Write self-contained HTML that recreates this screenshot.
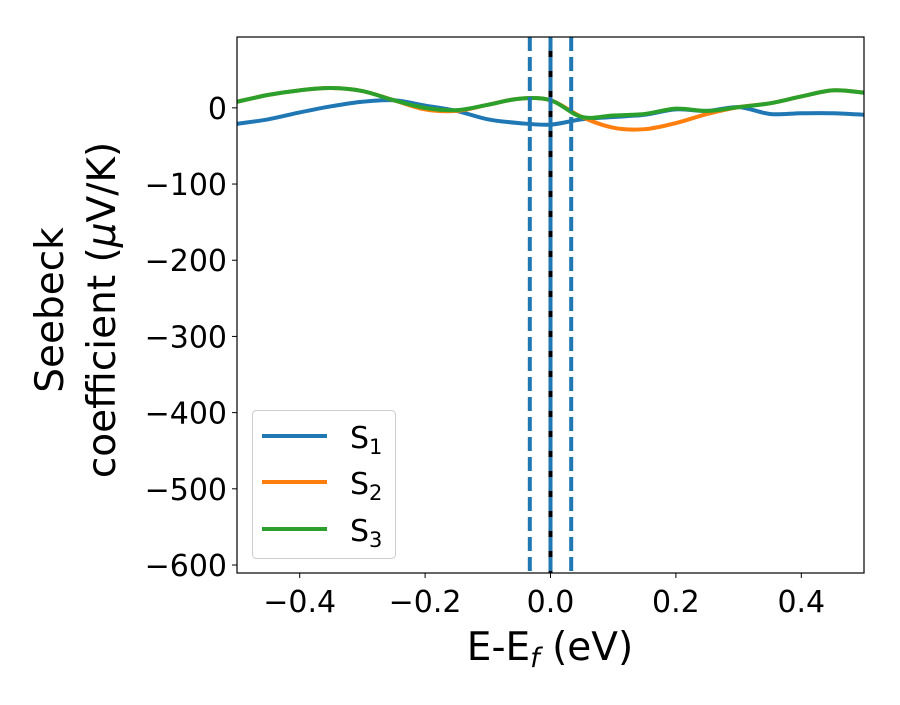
<!DOCTYPE html>
<html><head><meta charset="utf-8"><style>
html,body{margin:0;padding:0;background:#fff;}
svg text{font-family:"DejaVu Sans","Liberation Sans",sans-serif;fill:#000;}
</style></head><body>
<svg id="chart" width="900" height="700" xmlns="http://www.w3.org/2000/svg">
<g id="plot"></g>
</svg>
<script>
const xValues = [-0.5,-0.45,-0.4,-0.35,-0.3,-0.25,-0.2,-0.15,-0.1,-0.05,0,0.05,0.1,0.15,0.2,0.25,0.3,0.35,0.4,0.45,0.5];
const s1Values = [-21,-15,-6,2,8,10,3,-4,-15,-20,-22,-15,-12,-9,-2,-4,1,-8,-7,-7,-9];
const s2Values = [8,17,23,26,22,10,-2,-4,4,12,10,-12,-26,-28,-20,-8,1,6,15,23,20];
const s3Values = [8,17,23,26,22,10,0,-3,4,12,10,-12,-10,-8,-1,-4,1,6,15,23,20];
const xTicks = [-0.4,-0.2,0.0,0.2,0.4];
const xTickLabels = ["−0.4","−0.2","0.0","0.2","0.4"];
const yTicks = [0,-100,-200,-300,-400,-500,-600];
const yTickLabels = ["0","−100","−200","−300","−400","−500","−600"];
const vlinesDashed = [-0.033,0.033];
const vlineSolid = [0];

const L=237,R=864,T=37,B=573;
const xMin=-0.5,xMax=0.5,yMin=-610.5,yMax=93;
const sx=v=>L+(v-xMin)/(xMax-xMin)*(R-L);
const sy=v=>B-(v-yMin)/(yMax-yMin)*(B-T);
const NS="http://www.w3.org/2000/svg";
const g=document.getElementById('plot');
function mk(tag,attrs,parent){const e=document.createElementNS(NS,tag);for(const k in attrs)e.setAttribute(k,attrs[k]);(parent||g).appendChild(e);return e;}

const defs=mk('defs',{});
const cp=mk('clipPath',{id:'clip'},defs);
mk('rect',{x:L,y:T,width:R-L,height:B-T},cp);

function smoothPath(xs,ys){
  const p=xs.map((x,i)=>[sx(x),sy(ys[i])]);
  let d=`M${p[0][0]},${p[0][1]}`;
  for(let i=0;i<p.length-1;i++){
    const p0=p[Math.max(0,i-1)],p1=p[i],p2=p[i+1],p3=p[Math.min(p.length-1,i+2)];
    const c1=[p1[0]+(p2[0]-p0[0])/6,p1[1]+(p2[1]-p0[1])/6];
    const c2=[p2[0]-(p3[0]-p1[0])/6,p2[1]-(p3[1]-p1[1])/6];
    d+=` C${c1[0]},${c1[1]} ${c2[0]},${c2[1]} ${p2[0]},${p2[1]}`;
  }
  return d;
}
const series=[[s1Values,'#1f77b4','series-s1'],[s2Values,'#ff7f0e','series-s2'],[s3Values,'#2ca02c','series-s3']];
const lg=mk('g',{'clip-path':'url(#clip)'});


series.forEach(s=>{
  const p=mk('path',{d:smoothPath(xValues,s[0]),fill:'none',stroke:s[1],'stroke-width':4,'stroke-linejoin':'round'},lg);
  
  
});
vlineSolid.forEach(v=>{
  const l=mk('line',{x1:sx(v),x2:sx(v),y1:T,y2:B,stroke:'#000','stroke-width':4});
  
  
  const l2=mk('line',{x1:sx(v),x2:sx(v),y1:T,y2:B,stroke:'#1f77b4','stroke-width':4,'stroke-dasharray':'14,6'});
  
  
});
vlinesDashed.forEach(v=>{
  const l=mk('line',{x1:sx(v),x2:sx(v),y1:T,y2:B,stroke:'#1f77b4','stroke-width':4,'stroke-dasharray':'14,6'});
  
  
});
const frame=mk('rect',{x:L,y:T,width:R-L,height:B-T,fill:'none',stroke:'#000','stroke-width':1.2});



xTicks.forEach((v,i)=>{
  mk('line',{x1:sx(v),x2:sx(v),y1:B,y2:B+5,stroke:'#000','stroke-width':1});
  const t=mk('text',{x:sx(v),y:B+39,'text-anchor':'middle','font-size':30});
  t.textContent=xTickLabels[i];
  
  
});
yTicks.forEach((v,i)=>{
  mk('line',{x1:L-5,x2:L,y1:sy(v),y2:sy(v),stroke:'#000','stroke-width':1});
  const t=mk('text',{x:L-10,y:sy(v)+11,'text-anchor':'end','font-size':30});
  t.textContent=yTickLabels[i];
  
  
});
</script>
<svg width="900" height="700" style="position:absolute;left:0;top:0" xmlns="http://www.w3.org/2000/svg">
<text x="550" y="660" text-anchor="middle" font-size="39">E-E<tspan font-style="italic" font-size="27" dy="7">f</tspan><tspan dy="-7"> (eV)</tspan></text>
<g transform="translate(0,310) rotate(-90)">
<text x="0" y="63" text-anchor="middle" font-size="39">Seebeck</text>
<text x="0" y="115" text-anchor="middle" font-size="39">coefficient  (<tspan font-style="italic">μ</tspan>V/K)</text>
</g>
<g>
<rect x="252.5" y="410.5" width="143" height="148" rx="4" fill="#fff" fill-opacity="0.8" stroke="#ccc" stroke-width="1"/>
<g><line x1="262" x2="327" y1="436" y2="436" stroke="#1f77b4" stroke-width="4"/><text x="350" y="448" font-size="30">S<tspan font-size="21" dy="6">1</tspan></text></g>
<g><line x1="262" x2="327" y1="482" y2="482" stroke="#ff7f0e" stroke-width="4"/><text x="350" y="494" font-size="30">S<tspan font-size="21" dy="6">2</tspan></text></g>
<g><line x1="262" x2="327" y1="529" y2="529" stroke="#2ca02c" stroke-width="4"/><text x="350" y="541" font-size="30">S<tspan font-size="21" dy="6">3</tspan></text></g>
</g>
</svg>
</body></html>
